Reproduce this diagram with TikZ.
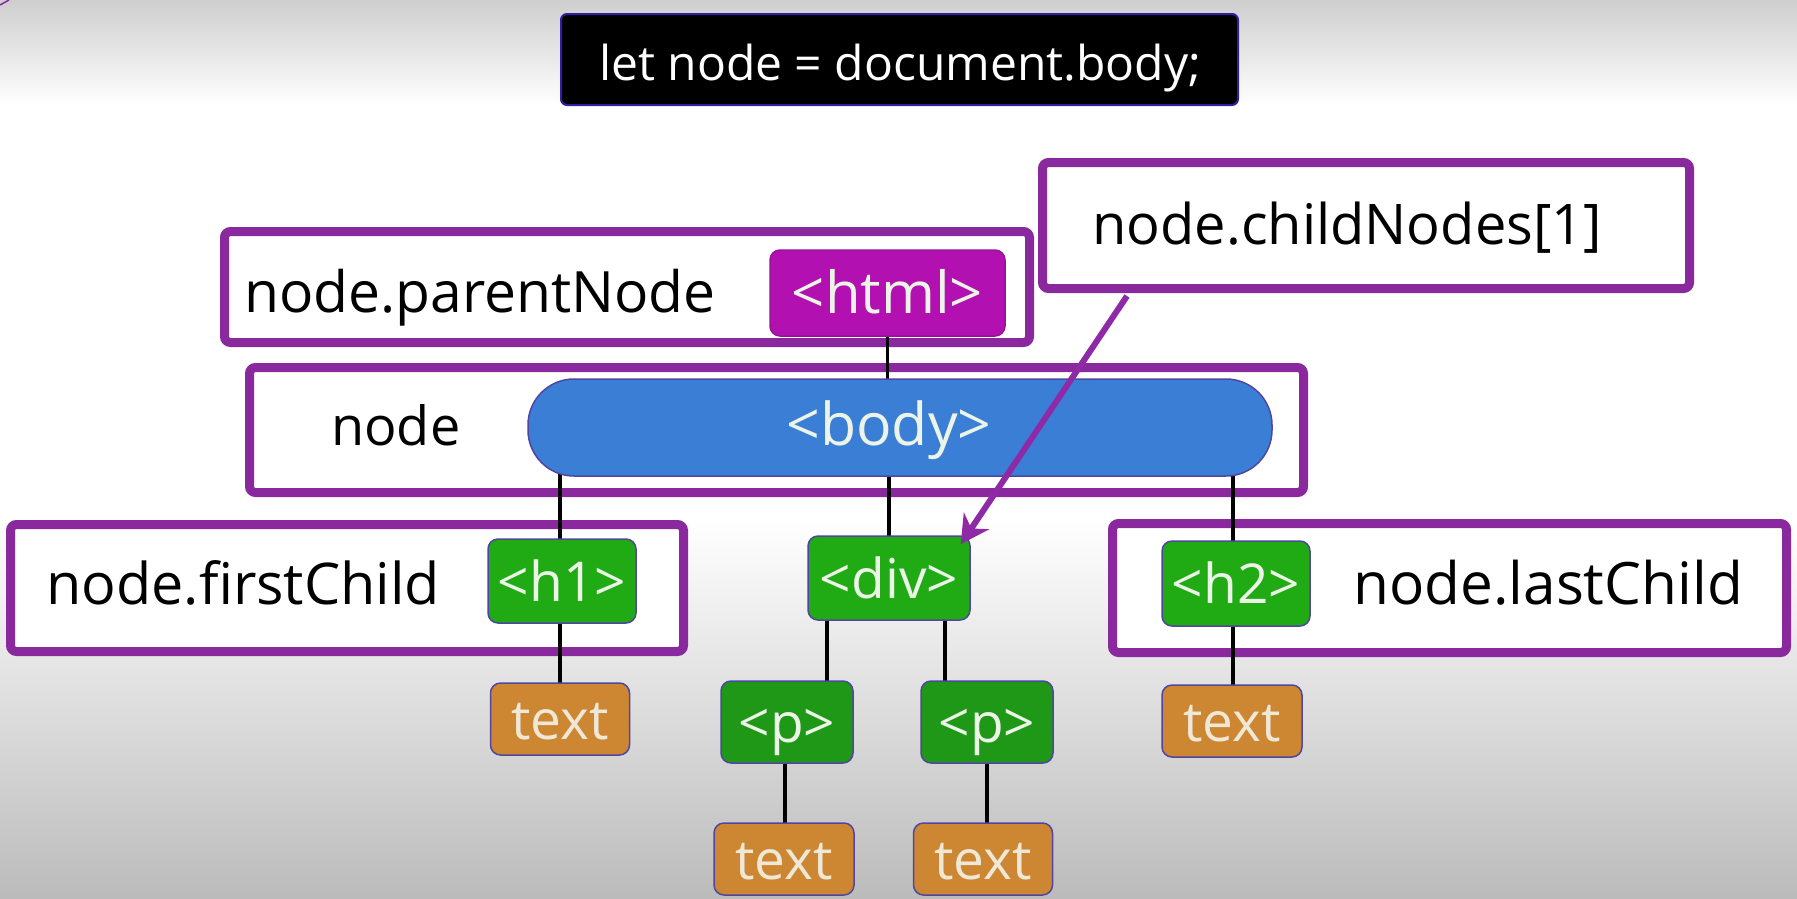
\documentclass[tikz,border=0pt]{standalone}
\usepackage{fontspec}
\setmainfont{Open Sans}
\usetikzlibrary{arrows.meta,calc}
\pgfdeclarelayer{bg}
\pgfdeclarelayer{frames}
\pgfdeclarelayer{links}
\pgfsetlayers{bg,frames,links,main}

\definecolor{framepurple}{RGB}{138,40,158}
\definecolor{htmlmag}{RGB}{178,16,176}
\definecolor{bodyblue}{RGB}{58,126,214}
\definecolor{taggreen}{RGB}{32,170,20}
\definecolor{pgreen}{RGB}{30,152,22}
\definecolor{textorange}{RGB}{205,135,50}
\definecolor{tagedge}{RGB}{80,70,160}
\definecolor{tagfont}{RGB}{236,244,232}
\definecolor{textfont}{RGB}{240,232,214}
\definecolor{arrowpurple}{RGB}{142,42,166}
\definecolor{codeedge}{RGB}{48,32,160}

\tikzset{
  purplebox/.style={draw=framepurple, line width=9pt, fill=white,
    rounded corners=6pt, inner sep=0pt},
  tagbox/.style={draw=tagedge, line width=1.5pt, rounded corners=10pt,
    text=tagfont, font=\fontsize{55}{60}\selectfont, inner sep=0pt,
    text height=40pt, text depth=0pt},
  greentag/.style={tagbox, fill=taggreen},
  ptag/.style={tagbox, fill=pgreen},
  texttag/.style={tagbox, fill=textorange, text=textfont},
  lbl/.style={font=\fontsize{57}{62}\selectfont, text=black, inner sep=0pt,
    anchor=base west},
  link/.style={draw=black, line width=3.5pt},
}

\begin{document}
\begin{tikzpicture}[x=1pt,y=-1pt]
\useasboundingbox (0,0) rectangle (1797,898);

% backdrop: grey fade at the top and bottom edges
\begin{pgfonlayer}{bg}
  \fill[white] (0,0) rectangle (1797,898);
  \shade[top color={rgb,255:red,206;green,206;blue,206}, bottom color=white]
    (0,0) rectangle (1797,105);
  \shade[top color=white, bottom color={rgb,255:red,187;green,187;blue,187}]
    (0,520) rectangle (1797,898);
  \draw[framepurple, line width=1.5pt] (0,5) -- (9,0);
\end{pgfonlayer}

% code line
\node[fill=black, draw=codeedge, line width=2pt, rounded corners=6pt,
      minimum width=677pt, minimum height=91pt, inner sep=0pt]
  (code) at (899.5,59.5) {};
\node[font=\fontsize{48}{52}\selectfont, text=white, anchor=base west,
      inner sep=0pt] (codetext) at (599,80) {let node = document.body;};

% purple highlight frames
\begin{pgfonlayer}{frames}
  \node[purplebox, minimum width=805pt, minimum height=111pt] (parentbox) at (627,287) {};
  \node[purplebox, minimum width=1054pt, minimum height=125pt] (nodebox) at (776.5,430) {};
  \node[purplebox, minimum width=647pt, minimum height=126pt] (childbox) at (1366,225.5) {};
  \node[purplebox, minimum width=673pt, minimum height=127pt] (firstbox) at (347,588) {};
  \node[purplebox, minimum width=674pt, minimum height=129pt] (lastbox) at (1449.5,588) {};
\end{pgfonlayer}

% DOM tree nodes
\node[tagbox, fill=htmlmag, draw={rgb,255:red,150;green,20;blue,150},
      minimum width=235pt, minimum height=86pt,
      font=\fontsize{58}{62}\selectfont] (html) at (887.5,293) {<html>};
\node[fill=bodyblue, draw=tagedge, line width=1.5pt, rounded corners=46pt,
      minimum width=744pt, minimum height=97pt, inner sep=0pt] (body) at (900,427.5) {};
\node[text=tagfont, font=\fontsize{59}{63}\selectfont, anchor=base,
      inner sep=0pt] (bodytext) at (889,445) {<body>};

\node[greentag, minimum width=148pt, minimum height=84pt] (h1) at (562,581) {<h1>};
\node[greentag, minimum width=162pt, minimum height=84pt] (div) at (889,578) {<div>};
\node[greentag, minimum width=148pt, minimum height=85pt] (h2) at (1236,583.5) {<h2>};

\node[texttag, minimum width=139pt, minimum height=72pt] (t1) at (560,719) {text};
\node[ptag, minimum width=132pt, minimum height=82pt] (p1) at (787,722) {<p>};
\node[ptag, minimum width=132pt, minimum height=82pt] (p2) at (987,722) {<p>};
\node[texttag, minimum width=140pt, minimum height=72pt] (t2) at (1232,721) {text};
\node[texttag, minimum width=140pt, minimum height=72pt] (t3) at (784,859) {text};
\node[texttag, minimum width=139pt, minimum height=72pt] (t4) at (983,859) {text};

% tree edges, kept under the boxes
\begin{pgfonlayer}{links}
  \draw[link] (html.center) -- (html.center |- body.center);
  \draw[link] (bodytext.center |- body.center) -- (bodytext.center |- div.center);
  \draw[link] ([xshift=-2pt]h1.center |- body.center) -- ([xshift=-2pt]h1.center |- t1.center);
  \draw[link] ([xshift=-3pt]h2.center |- body.center) -- ([xshift=-3pt]h2.center |- t2.center);
  \draw[link] ([xshift=-62pt]div.center) -- ([xshift=-62pt]div.center |- p1.center);
  \draw[link] ([xshift=56pt]div.center) -- ([xshift=56pt]div.center |- p2.center);
  \draw[link] ([xshift=-2pt]p1.center) -- ([xshift=-2pt]p1.center |- t3.center);
  \draw[link] (p2.center) -- (p2.center |- t4.center);
\end{pgfonlayer}

% captions
\node[lbl] (parentlbl) at (244,312) {node.parentNode};
\node[lbl, font=\fontsize{54}{60}\selectfont] (nodelbl) at (331,445) {node};
\node[lbl, font=\fontsize{56}{60}\selectfont] (childlbl) at (1092,244) {node.childNodes[1]};
\node[lbl, font=\fontsize{57.5}{62}\selectfont] (firstlbl) at (46,604) {node.firstChild};
\node[lbl, font=\fontsize{58.5}{62}\selectfont] (lastlbl) at (1353,604) {node.lastChild};

% pointer from childNodes[1] to <div>
\coordinate (ptrstart) at (1127,296);
\coordinate (ptrend) at ($(div.north east)+(-10,9)$);
\draw[arrowpurple, line width=6pt,
      -{Stealth[length=28pt, width=30pt, inset=9pt]}] (ptrstart) -- (ptrend);
\end{tikzpicture}
\end{document}
